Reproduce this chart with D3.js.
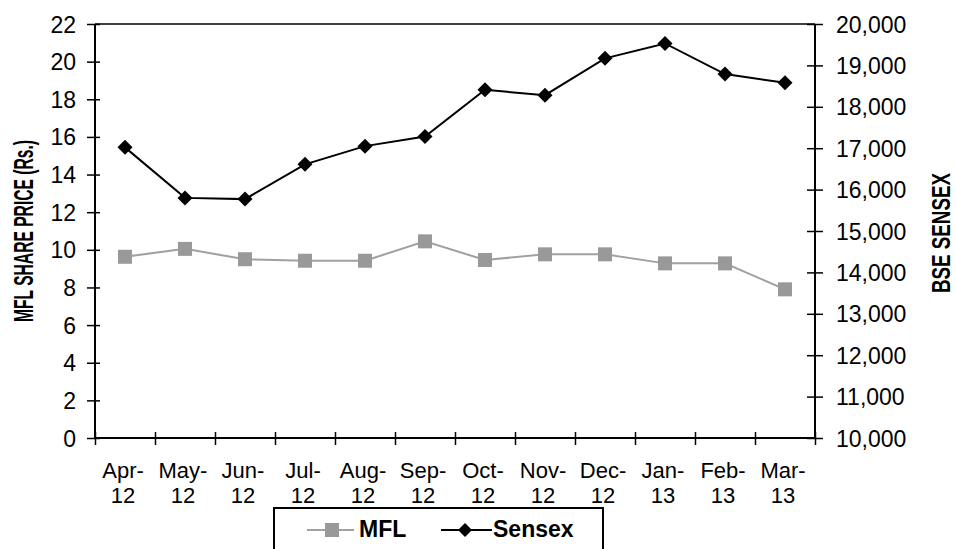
<!DOCTYPE html>
<html><head><meta charset="utf-8">
<script src="https://cdn.jsdelivr.net/npm/d3@7"></script>
<style>
body{margin:0;background:#fff;}
svg{display:block;font-family:"Liberation Sans",Arial,sans-serif;}
</style></head>
<body><svg id="c" width="956" height="549"></svg>
<script>
const months = ["Apr-12","May-12","Jun-12","Jul-12","Aug-12","Sep-12","Oct-12","Nov-12","Dec-12","Jan-13","Feb-13","Mar-13"];
const mflValues = [9.63,10.05,9.5,9.42,9.42,10.45,9.46,9.76,9.76,9.28,9.28,7.9];
const sensexValues = [17020,15800,15770,16610,17050,17280,18410,18280,19170,19530,18790,18580];
const leftTicks = [0,2,4,6,8,10,12,14,16,18,20,22];
const rightTicks = [10000,11000,12000,13000,14000,15000,16000,17000,18000,19000,20000];

const svg = d3.select("#c");
const L = 95, R = 815, T = 24, B = 438;
const x = d3.scaleBand().domain(months).range([L, R]);
const xB = d3.scaleLinear().domain([0, months.length]).range([L, R]);
const yL = d3.scaleLinear().domain([0, 22]).range([B, T]);
const yR = d3.scaleLinear().domain([10000, 20000]).range([B, T]);
const cx = d => x(d) + x.bandwidth() / 2;

// top border
svg.append("line").attr("x1", L).attr("x2", R).attr("y1", T).attr("y2", T).attr("stroke", "#000").attr("stroke-width", 1.5);

// left axis
const gL = svg.append("g").attr("transform", `translate(${L},0)`)
  .call(d3.axisLeft(yL).tickValues(leftTicks).tickSize(8).tickPadding(11));
gL.selectAll(".tick line").attr("x2", -8).attr("x1", 5).attr("stroke-width", 1.5);
gL.select(".domain").attr("d", `M0,${T}V${B}`).attr("stroke-width", 2);
gL.selectAll("text").attr("font-size", 23).attr("fill", "#000").attr("dy", "0.35em");

// right axis
const gR = svg.append("g").attr("transform", `translate(${R},0)`)
  .call(d3.axisRight(yR).tickValues(rightTicks).tickFormat(d3.format(",")).tickSize(8).tickPadding(13));
gR.selectAll(".tick line").attr("x1", -8).attr("x2", 8).attr("stroke-width", 1.5);
gR.select(".domain").attr("d", `M0,${T}V${B}`).attr("stroke-width", 2);
gR.selectAll("text").attr("font-size", 23).attr("fill", "#000").attr("dy", "0.35em");

// bottom axis
const gB = svg.append("g").attr("transform", `translate(0,${B})`)
  .call(d3.axisBottom(xB).tickValues(d3.range(months.length + 1)).tickFormat("").tickSize(7));
gB.selectAll(".tick line").attr("y1", -6).attr("stroke-width", 1.5);
gB.select(".domain").attr("d", `M${L},0H${R}`).attr("stroke-width", 2);

// x labels
const xl = svg.append("g").selectAll("text").data(months).join("text")
  .attr("x", d => cx(d)).attr("y", 478).attr("text-anchor", "middle").attr("font-size", 22).attr("fill", "#000");
xl.append("tspan").attr("x", d => cx(d) - 2).text(d => d.split("-")[0] + "-");
xl.append("tspan").attr("x", d => cx(d) - 2).attr("dy", 25).text(d => d.split("-")[1]);

// axis titles
svg.append("text").attr("transform", "translate(33,231) rotate(-90)").attr("text-anchor", "middle")
  .attr("font-size", 27).attr("font-weight", "bold").attr("textLength", 182).attr("lengthAdjust", "spacingAndGlyphs")
  .text("MFL SHARE PRICE (Rs.)");
svg.append("text").attr("transform", "translate(950,233) rotate(-90)").attr("text-anchor", "middle")
  .attr("font-size", 25).attr("font-weight", "bold").attr("textLength", 120).attr("lengthAdjust", "spacingAndGlyphs")
  .text("BSE SENSEX");

// MFL line
svg.append("path").datum(mflValues).attr("fill", "none").attr("stroke", "#a0a0a0").attr("stroke-width", 2)
  .attr("d", d3.line().x((d, i) => cx(months[i])).y(d => yL(d)));
svg.append("g").selectAll("rect").data(mflValues).join("rect")
  .attr("x", (d, i) => cx(months[i]) - 7).attr("y", d => yL(d) - 7).attr("width", 14).attr("height", 14).attr("fill", "#999999");

// Sensex line
svg.append("path").datum(sensexValues).attr("fill", "none").attr("stroke", "#000").attr("stroke-width", 2)
  .attr("d", d3.line().x((d, i) => cx(months[i])).y(d => yR(d)));
const diamond = (px, py, r) => `M${px},${py - r}L${px + r},${py}L${px},${py + r}L${px - r},${py}Z`;
svg.append("g").selectAll("path").data(sensexValues).join("path")
  .attr("d", (d, i) => diamond(cx(months[i]), yR(d), 7.5)).attr("fill", "#000");

// legend
svg.append("rect").attr("x", 274).attr("y", 508).attr("width", 329).attr("height", 60)
  .attr("fill", "#fff").attr("stroke", "#000").attr("stroke-width", 2);
const ly = 530;
svg.append("line").attr("x1", 307).attr("x2", 354).attr("y1", ly).attr("y2", ly).attr("stroke", "#a0a0a0").attr("stroke-width", 2);
svg.append("rect").attr("x", 325).attr("y", ly - 7).attr("width", 14).attr("height", 14).attr("fill", "#999999");
svg.append("text").attr("x", 359).attr("y", 537).attr("font-size", 23).attr("font-weight", "bold").text("MFL");
svg.append("line").attr("x1", 441).attr("x2", 492).attr("y1", ly).attr("y2", ly).attr("stroke", "#000").attr("stroke-width", 2);
svg.append("path").attr("d", diamond(465, ly, 7)).attr("fill", "#000");
svg.append("text").attr("x", 493).attr("y", 537).attr("font-size", 23).attr("font-weight", "bold").text("Sensex");
</script></body></html>
